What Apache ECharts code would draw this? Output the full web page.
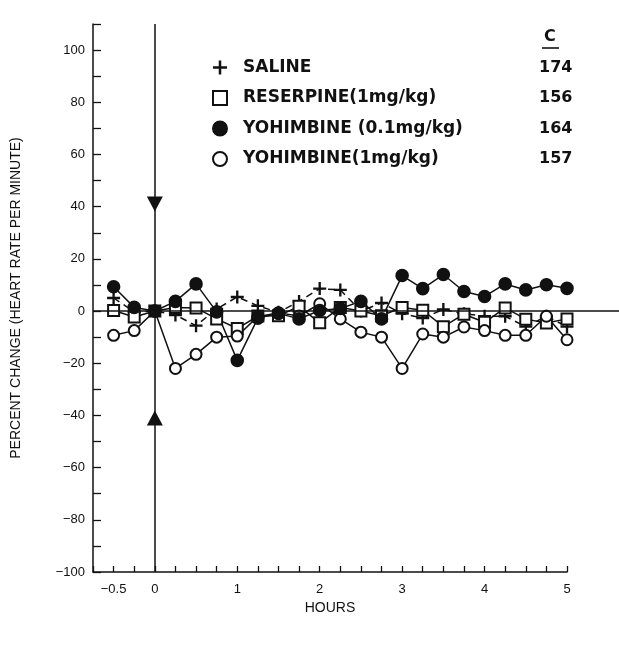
<!DOCTYPE html>
<html lang="en">
<head>
  <meta charset="UTF-8">
  <title>Percent change in heart rate</title>
  <script src="https://cdn.jsdelivr.net/npm/echarts@6/dist/echarts.min.js"></script>
  <style>
    body { margin: 0; background: #fff; }
    #chart { width: 619px; height: 646px; }
  </style>
</head>
<body>
  <div id="chart"></div>
  <script>
    // time points (hours) and % change values
    const hours = [-0.5, -0.25, 0, 0.25, 0.5, 0.75, 1, 1.25, 1.5, 1.75, 2, 2.25, 2.5, 2.75, 3, 3.25, 3.5, 3.75, 4, 4.25, 4.5, 4.75, 5];
    const saline = [5, -0.3, 0, -1.5, -5.6, 0.8, 5.4, 2, -0.5, 3.7, 8.6, 8.1, 0, 3.1, -1, -2.7, 0.6, -1, -2, -2, -6, -2, -6];
    const reserpine = [0.2, -2.3, 0, 1.4, 1.2, -3, -6.7, -1.9, -1.8, 1.8, -4.5, 1.4, 0, -1.8, 1.4, 0.3, -6, -1.2, -4.3, 1.2, -3.1, -4.6, -3];
    const yohimbineLow = [9.3, 1.4, 0, 3.7, 10.4, -0.3, -18.9, -2.7, -0.9, -3, 0.2, 1, 3.7, -3, 13.6, 8.6, 14, 7.5, 5.6, 10.4, 8.1, 10.1, 8.7];
    const yohimbineHigh = [-9.3, -7.5, 0, -22, -16.6, -10, -9.6, -2.1, -0.7, -1.9, 2.8, -3, -8.1, -10, -22, -8.8, -10, -6.1, -7.5, -9.3, -9.3, -2, -11];

    const seriesNames = ['SALINE', 'RESERPINE(1mg/kg)', 'YOHIMBINE (0.1mg/kg)', 'YOHIMBINE(1mg/kg)'];
    const controlRates = ['174', '156', '164', '157'];
    const xTickLabels = [-0.5, 0, 1, 2, 3, 4, 5];
    const yTickLabels = [-100, -80, -60, -40, -20, 0, 20, 40, 60, 80, 100];
    const triangles = [41, -41];  // injection markers at t = 0

    const plus = 'path://M0,4.1 H4.1 V0 H5.9 V4.1 H10 V5.9 H5.9 V10 H4.1 V5.9 H0 Z';
    const ink = '#111';
    const axisFont = 'Liberation Sans';
    const legendFont = 'DejaVu Sans';

    const pairs = vals => hours.map((h, i) => [h, vals[i]]);
    const minus = v => (v < 0 ? '\u2212' + Math.abs(v) : String(v));

    function lineSeries(name, vals, symbol, size, dashed) {
      return {
        name: name,
        type: 'line',
        data: pairs(vals),
        symbol: symbol,
        symbolSize: size,
        showSymbol: true,
        color: ink,
        itemStyle: { color: ink, borderColor: ink, borderWidth: symbol === plus ? 0 : 1.6 },
        lineStyle: { color: ink, width: 1.5, type: dashed ? [7, 5] : 'solid' },
        emphasis: { disabled: true }
      };
    }

    const chart = echarts.init(document.getElementById('chart'));
    chart.setOption({
      animation: false,
      grid: [
        { left: 93, right: 52, top: 24, bottom: 74 },
        { left: 93, right: 0, top: 24, bottom: 74 }
      ],
      xAxis: [{
        type: 'value', gridIndex: 0,
        min: -0.75, max: 5, interval: 0.25,
        name: 'HOURS', nameLocation: 'middle', nameGap: 29,
        nameTextStyle: { fontFamily: axisFont, fontSize: 14, color: ink },
        axisLine: { onZero: false, lineStyle: { color: ink, width: 1.5 } },
        axisTick: { inside: true, length: 6, lineStyle: { color: ink, width: 1.3 } },
        axisLabel: {
          fontFamily: axisFont, fontSize: 13, color: ink, margin: 11,
          formatter: v => (xTickLabels.indexOf(v) >= 0 ? minus(v) : '')
        },
        splitLine: { show: false }
      }, {
        type: 'value', gridIndex: 1, min: 0, max: 1, show: false
      }],
      yAxis: [{
        type: 'value', gridIndex: 0,
        min: -100, max: 110, interval: 10,
        name: 'PERCENT CHANGE (HEART RATE PER MINUTE)', nameLocation: 'middle', nameGap: 70,
        nameTextStyle: { fontFamily: axisFont, fontSize: 14, color: ink },
        axisLine: { show: true, onZero: false, lineStyle: { color: ink, width: 1.5 } },
        axisTick: { inside: true, length: 8, lineStyle: { color: ink, width: 1.3 } },
        axisLabel: {
          fontFamily: axisFont, fontSize: 13, color: ink, margin: 8,
          formatter: v => (yTickLabels.indexOf(v) >= 0 ? minus(v) : '')
        },
        splitLine: { show: false }
      }, {
        type: 'value', gridIndex: 1, min: -100, max: 110, show: false
      }],
      legend: {
        orient: 'vertical',
        left: 207, top: 54,
        itemWidth: 14, itemHeight: 14, itemGap: 13.5,
        selectedMode: false,
        data: [
          { name: seriesNames[0], icon: plus },
          { name: seriesNames[1], icon: 'emptyRect' },
          { name: seriesNames[2], icon: 'circle' },
          { name: seriesNames[3], icon: 'emptyCircle' }
        ],
        formatter: name => '{n|' + name + '}{c|' + controlRates[seriesNames.indexOf(name)] + '}',
        textStyle: {
          color: ink,
          rich: {
            n: { width: 296, padding: [0, 0, 0, 11], fontFamily: legendFont, fontWeight: 'bold', fontSize: 17, color: ink },
            c: { fontFamily: legendFont, fontWeight: 'bold', fontSize: 16, color: ink }
          }
        }
      },
      graphic: [
        { type: 'text', left: 544, top: 29, style: { text: 'C', font: 'bold 16px "DejaVu Sans"', fill: ink } },
        { type: 'line', shape: { x1: 542, y1: 48, x2: 559, y2: 48 }, style: { stroke: ink, lineWidth: 1.6 } }
      ],
      series: [
        {
          type: 'line', xAxisIndex: 1, yAxisIndex: 1, data: [], silent: true,
          markLine: {
            symbol: 'none', silent: true, label: { show: false },
            lineStyle: { color: ink, width: 1.5, type: 'solid' },
            data: [{ yAxis: 0 }]
          }
        },
        {
          type: 'scatter', data: triangles.map(v => [0, v]), silent: true,
          symbol: 'triangle', symbolSize: [16, 15],
          symbolRotate: (val) => (val[1] > 0 ? 180 : 0),
          itemStyle: { color: ink, opacity: 1 },
          markLine: {
            symbol: 'none', silent: true, label: { show: false },
            lineStyle: { color: ink, width: 1.5, type: 'solid' },
            data: [{ xAxis: 0 }]
          }
        },
        lineSeries(seriesNames[0], saline, plus, 13, true),
        lineSeries(seriesNames[1], reserpine, 'emptyRect', 11, false),
        lineSeries(seriesNames[3], yohimbineHigh, 'emptyCircle', 11, false),
        lineSeries(seriesNames[2], yohimbineLow, 'circle', 12, false)
      ]
    });
  </script>
</body>
</html>
